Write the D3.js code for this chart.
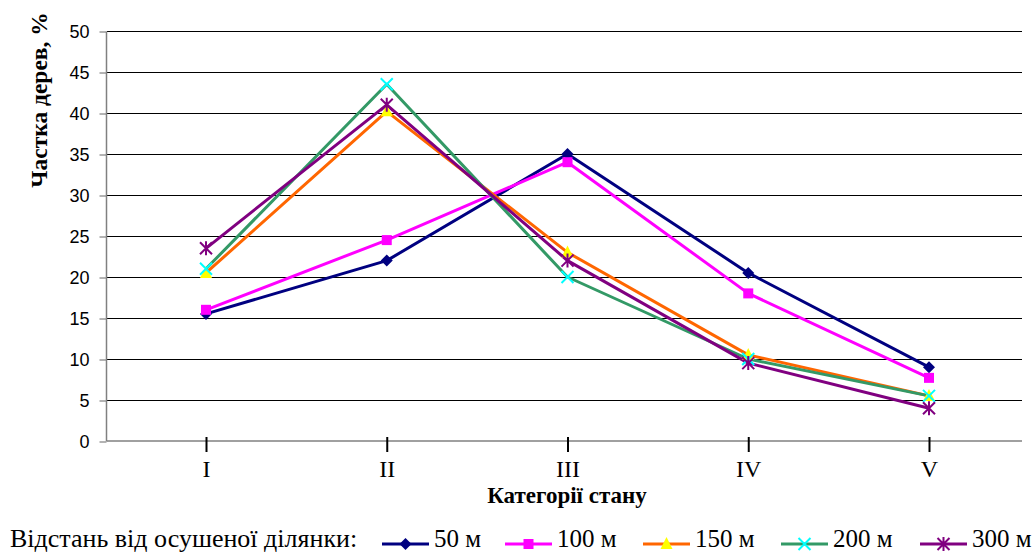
<!DOCTYPE html>
<html>
<head>
<meta charset="utf-8">
<script src="https://cdn.jsdelivr.net/npm/d3@7"></script>
<style>
  html, body { margin: 0; padding: 0; background: #fff; }
  svg { display: block; }
</style>
</head>
<body>
<svg id="chart" width="1034" height="554"></svg>
<script>
const categories = ["I", "II", "III", "IV", "V"];
const yTicks = [0, 5, 10, 15, 20, 25, 30, 35, 40, 45, 50];
const seriesNames = ["50 м", "100 м", "150 м", "200 м", "300 м"];
const s50  = [15.5, 22.0, 35.0, 20.5, 9.0];
const s100 = [16.0, 24.5, 34.0, 18.0, 7.7];
const s150 = [20.5, 40.2, 23.0, 10.5, 5.5];
const s200 = [21.0, 43.5, 20.0, 10.0, 5.5];
const s300 = [23.5, 41.0, 22.0, 9.5, 4.0];
const legendTitle = "Відстань від осушеної ділянки:";
const yTitle = "Частка дерев, %";
const xTitle = "Категорії стану";

const series = [
  { name: seriesNames[0], values: s50,  line: "#000080", fill: "#000080", marker: "diamond" },
  { name: seriesNames[1], values: s100, line: "#FF00FF", fill: "#FF00FF", marker: "square" },
  { name: seriesNames[2], values: s150, line: "#FF6600", fill: "#FFFF00", marker: "triangle" },
  { name: seriesNames[3], values: s200, line: "#339966", fill: "#00FFFF", marker: "x" },
  { name: seriesNames[4], values: s300, line: "#800080", fill: "#800080", marker: "star" }
];

const serif = "'Liberation Serif', 'Times New Roman', serif";
const svg = d3.select("#chart");
const plot = { left: 107, right: 1022, top: 31, bottom: 441 };

const x = d3.scalePoint().domain(categories).range([206, 929]);
const y = d3.scaleLinear().domain([0, 50]).range([plot.bottom, plot.top]);

// gridlines
svg.append("g").selectAll("line").data(yTicks.filter(d => d > 0)).join("line")
  .attr("x1", plot.left).attr("x2", plot.right)
  .attr("y1", d => Math.round(y(d)) + 0.5).attr("y2", d => Math.round(y(d)) + 0.5)
  .attr("stroke", "#000").attr("stroke-width", 1);

// y axis
const yAxis = d3.axisLeft(y).tickValues(yTicks).tickSize(7).tickPadding(10);
const gy = svg.append("g").attr("transform", `translate(${plot.left - 0.5},0.5)`).call(yAxis);
gy.select(".domain").attr("stroke", "#808080").attr("stroke-width", 1.5).attr("d", `M0,${plot.top}V${plot.bottom}`);
gy.selectAll(".tick line").attr("stroke", "#808080").attr("stroke-width", 1.2);
gy.selectAll(".tick text").attr("font-family", "'Liberation Sans', Arial, sans-serif")
  .attr("font-size", 18).attr("fill", "#000").attr("dy", "0.34em");

// x axis
const xAxis = d3.axisBottom(x).tickSize(0).tickPadding(0);
const gx = svg.append("g").attr("transform", `translate(0,${plot.bottom})`).call(xAxis);
gx.select(".domain").attr("stroke", "#808080").attr("stroke-width", 1.5).attr("d", `M${plot.left},0H${plot.right}`);
gx.selectAll(".tick").append("line").attr("y1", -4).attr("y2", 11).attr("stroke", "#000").attr("stroke-width", 2);
gx.selectAll(".tick text").attr("font-family", serif)
  .attr("font-size", 24).attr("fill", "#000").attr("dy", 0).attr("y", 36);

// axis titles
svg.append("text").attr("x", 567).attr("y", 503).attr("text-anchor", "middle")
  .attr("font-family", serif).attr("font-weight", "bold")
  .attr("font-size", 23).text(xTitle);
svg.append("text").attr("transform", "translate(47,100) rotate(-90)").attr("text-anchor", "middle")
  .attr("font-family", serif).attr("font-weight", "bold")
  .attr("font-size", 23.5).text(yTitle);

function drawMarker(g, type, fill) {
  if (type === "diamond") {
    g.append("path").attr("d", "M0,-6L6,0L0,6L-6,0Z").attr("fill", fill);
  } else if (type === "square") {
    g.append("rect").attr("x", -5).attr("y", -5).attr("width", 10).attr("height", 10).attr("fill", fill);
  } else if (type === "triangle") {
    g.append("path").attr("d", "M0,-7L6,5L-6,5Z").attr("fill", fill);
  } else if (type === "x") {
    g.append("path").attr("d", "M-6,-6L6,6M6,-6L-6,6").attr("stroke", fill).attr("stroke-width", 2).attr("fill", "none");
  } else if (type === "star") {
    g.append("path").attr("d", "M-6,-6L6,6M6,-6L-6,6M0,-7L0,7").attr("stroke", fill).attr("stroke-width", 2).attr("fill", "none");
  }
}

const line = d3.line().x((d, i) => x(categories[i])).y(d => y(d));
series.forEach(s => {
  svg.append("path").datum(s.values).attr("d", line)
    .attr("fill", "none").attr("stroke", s.line).attr("stroke-width", 3).attr("stroke-linejoin", "round");
});
series.forEach(s => {
  s.values.forEach((v, i) => {
    const g = svg.append("g").attr("transform", `translate(${x(categories[i])},${y(v)})`);
    drawMarker(g, s.marker, s.fill);
  });
});

// legend
const legendY = 544;
svg.append("text").attr("x", 10).attr("y", 547)
  .attr("font-family", serif).attr("font-size", 26).text(legendTitle);
const itemX = [382, 505, 643, 781, 920];
series.forEach((s, i) => {
  const sx = itemX[i];
  svg.append("line").attr("x1", sx).attr("x2", sx + 47).attr("y1", legendY).attr("y2", legendY)
    .attr("stroke", s.line).attr("stroke-width", 3);
  const g = svg.append("g").attr("transform", `translate(${sx + 23.5},${legendY})`);
  drawMarker(g, s.marker, s.fill);
  svg.append("text").attr("x", sx + 52).attr("y", 547)
    .attr("font-family", serif).attr("font-size", 25).text(s.name);
});
</script>
</body>
</html>
